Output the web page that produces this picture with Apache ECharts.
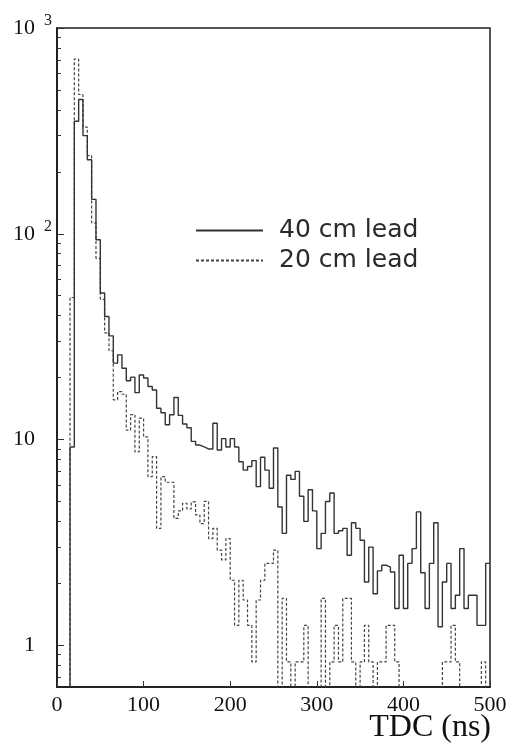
<!DOCTYPE html>
<html>
<head>
<meta charset="utf-8">
<script src="https://cdn.jsdelivr.net/npm/echarts@6/dist/echarts.min.js"></script>
<style>
html,body{margin:0;padding:0;background:#fff;}
#chart{width:521px;height:745px;}
</style>
</head>
<body>
<div id="chart"></div>
<script>
// TDC bin edges (ns), 5 ns bins
const binEdges = [0,5,10,15,20,25,30,35,40,45,50,55,60,65,70,75,80,85,90,95,
  100,105,110,115,120,125,130,135,140,145,150,155,160,165,170,175,180,185,190,195,
  200,205,210,215,220,225,230,235,240,245,250,255,260,265,270,275,280,285,290,295,
  300,305,310,315,320,325,330,335,340,345,350,355,360,365,370,375,380,385,390,395,
  400,405,410,415,420,425,430,435,440,445,450,455,460,465,470,475,480,485,490,495,500];

// counts per bin, 40 cm lead (solid)
const lead40 = [0,0,0,9.2,352,449,300,229,147,93.5,
  51.5,39.6,31.9,23.5,25.8,22.2,19.3,20.1,16.9,20.6,
  19.9,18.1,17.4,14.2,13.5,11.8,13.2,16.0,13.1,11.9,
  11.4,9.8,9.4,9.2,9.0,9.0,12.0,8.9,10.1,9.2,
  10.1,9.2,7.8,7.1,7.4,7.9,5.9,8.2,7.1,5.8,
  9.1,4.7,3.5,6.7,6.4,7.0,5.3,4.0,5.7,4.5,
  2.95,3.5,5.0,5.5,3.5,3.6,3.7,2.74,3.94,3.7,
  3.24,2.03,3.0,1.78,2.3,2.45,2.4,2.27,1.51,2.74,
  1.51,2.5,2.95,4.45,2.25,1.51,2.5,3.94,1.23,2.03,
  2.5,1.51,1.75,2.95,1.51,1.75,1.75,1.25,1.25,2.5];

// counts per bin, 20 cm lead (dashed)
const lead20 = [0,0,0,49,707,475,330,240,113,76,
  48,33,27,15.6,17.1,16.6,11.1,13.2,8.7,12.7,
  10.3,6.6,8.25,3.7,6.6,6.2,6.2,4.14,4.5,4.9,
  4.6,4.98,4.3,3.9,5.0,3.3,3.7,2.9,2.6,3.3,
  2.07,1.25,2.07,1.66,1.25,0.83,1.66,2.07,2.5,2.5,
  2.9,0,1.69,0.83,0,0.83,0.83,1.25,0,0,
  0,1.69,0,0.83,1.25,0.83,1.69,1.69,0.83,0,
  0.83,1.25,0.83,0,0.83,0.83,1.25,1.25,0.83,0,
  0,0,0,0,0,0,0,0,0,0.83,
  0.83,1.25,0.83,0,0,0,0,0,0.83,0];

const seriesNames = ['40 cm lead', '20 cm lead'];
const xTitle = 'TDC (ns)';
const xTicks = [0,100,200,300,400,500];
const yMajorTicks = [1,10,100,1000];
const yMinorTicks = [0.7,0.8,0.9,2,3,4,5,6,7,8,9,20,30,40,50,60,70,80,90,200,300,400,500,600,700,800,900];
const Y_MIN = 0.627, Y_MAX = 1000;
const ZERO_FLOOR = 0.3; // empty bins drawn below the axis floor

function stepData(counts){
  return binEdges.map((x,i)=>{
    const c = i < counts.length ? counts[i] : counts[counts.length-1];
    return [x, c > 0 ? c : ZERO_FLOOR];
  });
}

const chart = echarts.init(document.getElementById('chart'), null, {renderer:'canvas'});
const serif = 'Liberation Serif';
chart.setOption({
  animation:false,
  backgroundColor:'#fff',
  title:{
    text:xTitle, right:30, top:712, padding:0,
    textStyle:{fontFamily:serif, fontSize:32, fontWeight:'normal', color:'#111'}
  },
  grid:{left:57, right:31, top:28, bottom:58, show:true, borderColor:'#222', borderWidth:1.5,
        backgroundColor:'transparent', containLabel:false, outerBoundsMode:'none'},
  legend:{
    orient:'vertical', left:195, top:218, itemWidth:67, itemHeight:20, itemGap:5, padding:0,
    textStyle:{fontFamily:'DejaVu Sans', fontSize:25, color:'#2a2a2a', padding:[0,0,0,11]},
    itemStyle:{opacity:0},
    data:seriesNames
  },
  xAxis:{
    type:'value', min:0, max:500, interval:100,
    axisLine:{show:true, onZero:false, lineStyle:{color:'#222', width:2}},
    axisTick:{show:true, inside:true, length:6, lineStyle:{color:'#333', width:1}, customValues:xTicks},
    axisLabel:{fontFamily:serif, fontSize:22, color:'#111', margin:7, customValues:xTicks},
    splitLine:{show:false}
  },
  yAxis:[
    {
      type:'log', logBase:10, min:Y_MIN, max:Y_MAX, position:'left',
      axisLine:{show:true, onZero:false, lineStyle:{color:'#222', width:2}},
      axisTick:{show:true, inside:true, length:7, lineStyle:{color:'#333', width:1}, customValues:yMajorTicks},
      axisLabel:{
        margin:5, customValues:yMajorTicks,
        formatter:function(v){
          const e = Math.round(Math.log10(v));
          if (e === 3) return '{b|10}{s|3}';
          if (e === 2) return '{b|10}{s|2}';
          if (e === 1) return '{b|10}{e| }';
          return '{b|1}{e| }';
        },
        rich:{
          b:{fontFamily:serif, fontSize:22, color:'#111'},
          s:{fontFamily:serif, fontSize:16, color:'#111', width:17, align:'right', padding:[0,0,14,0]},
          e:{fontFamily:serif, fontSize:16, width:17}
        }
      },
      splitLine:{show:false}
    },
    {
      type:'log', logBase:10, min:Y_MIN, max:Y_MAX, position:'left',
      axisLine:{show:false},
      axisTick:{show:true, inside:true, length:4, lineStyle:{color:'#333', width:1}, customValues:yMinorTicks},
      axisLabel:{show:false},
      splitLine:{show:false}
    }
  ],
  series:[
    {
      name:seriesNames[0], type:'line', step:'end', symbol:'none', z:3,
      data:stepData(lead40), clip:true,
      lineStyle:{color:'#333', width:1.4}, itemStyle:{color:'#333'}
    },
    {
      name:seriesNames[1], type:'line', step:'end', symbol:'none', z:2,
      data:stepData(lead20), clip:true,
      lineStyle:{color:'#444', width:1.2, type:[3,2]}, itemStyle:{color:'#444'}
    }
  ]
});
</script>
</body>
</html>
